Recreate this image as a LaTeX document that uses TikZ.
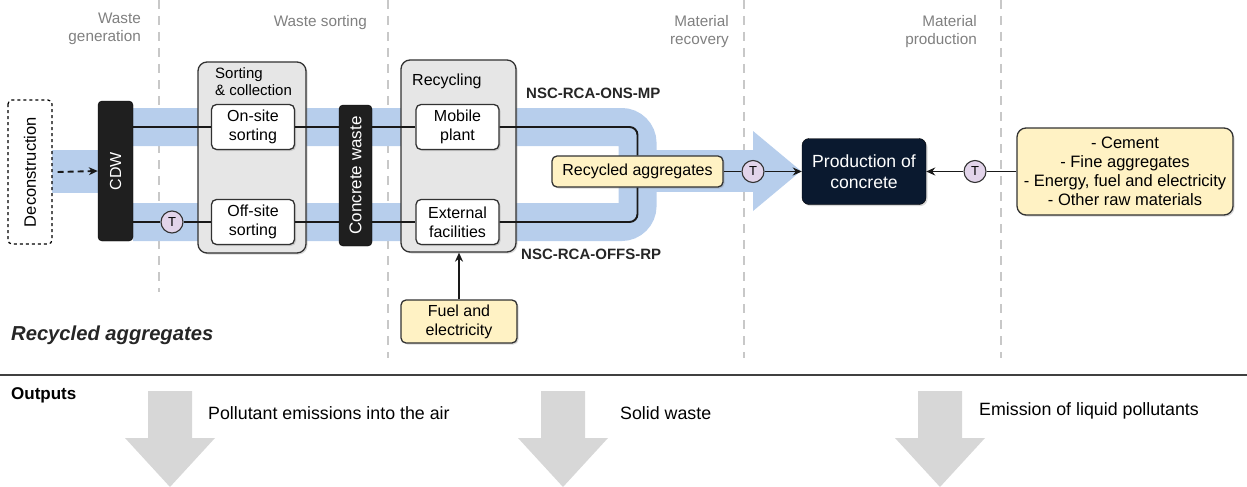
\documentclass[tikz,border=0pt]{standalone}
\usepackage{fontspec}
\setmainfont{Liberation Sans}
\usetikzlibrary{arrows.meta,shadows,backgrounds}

\definecolor{bandblue}{RGB}{183,206,236}
\definecolor{boxgray}{RGB}{230,230,230}
\definecolor{edge}{RGB}{50,50,50}
\definecolor{cream}{RGB}{255,242,196}
\definecolor{tfill}{RGB}{226,212,234}
\definecolor{navy}{RGB}{10,25,47}
\definecolor{phase}{RGB}{128,128,128}
\definecolor{divider}{RGB}{200,200,200}
\definecolor{outarrow}{RGB}{215,215,215}
\definecolor{rule}{RGB}{64,64,64}

\tikzset{
  shade/.style={drop shadow={shadow xshift=1.5pt,shadow yshift=-1.5pt,opacity=0.3}},
  group/.style={draw=edge, line width=1.3pt, fill=boxgray, rounded corners=9pt, inner sep=0pt, shade},
  inner/.style={draw=edge, line width=1.3pt, fill=white, rounded corners=5pt, align=center,
    inner sep=0pt, font=\fontsize{16}{19}\selectfont, shade},
  blackbar/.style={draw=black, fill=black!88, rounded corners=4pt, rotate=90, text=white,
    inner sep=0pt},
  input/.style={draw=edge, line width=1.3pt, fill=cream, rounded corners=5pt, align=center,
    inner sep=0pt, font=\fontsize{16}{19}\selectfont, shade},
  tnode/.style={circle, draw=edge, line width=1.1pt, fill=tfill, minimum size=22pt,
    inner sep=0pt, font=\fontsize{13}{13}\selectfont},
  link/.style={line width=1.9pt, draw=black!90},
  arr/.style={link, -{Stealth[length=9pt,width=8pt]}},
  phaselabel/.style={text=phase, font=\fontsize{15.3}{18}\selectfont, align=right,
    anchor=north east, inner sep=0pt},
  divline/.style={draw=divider, line width=1.5pt, dash pattern=on 9pt off 7pt},
  flowband/.style={draw=bandblue, line width=38pt},
  outtext/.style={anchor=west, font=\fontsize{17.8}{21}\selectfont},
  outarrowshape/.style={fill=outarrow, draw=none},
}

\begin{document}
\begin{tikzpicture}[x=1pt, y=-1pt]
\useasboundingbox (0,0) rectangle (1247,487);

% phase dividers
\draw[divline] (159,0) -- (159,292);
\draw[divline] (388,0) -- (388,358);
\draw[divline] (744,0) -- (744,358);
\draw[divline] (1001,0) -- (1001,358);

% phase labels
\node[phaselabel] (phgen) at (141,13) {Waste\\generation};
\node[phaselabel] (phsort) at (367,15) {Waste sorting};
\node[phaselabel] (phrec) at (729,15) {Material\\recovery};
\node[phaselabel] (phprod) at (977,15) {Material\\production};

% material flow bands
\fill[bandblue] (52,150) rectangle (100,193);
\draw[flowband, rounded corners=16pt] (133,127) -- (637.5,127) -- (637.5,222) -- (133,222);
\fill[bandblue] (637.5,150) rectangle (753,192);
\fill[bandblue] (753,131) -- (801,171) -- (753,211) -- cycle;

% process nodes
\node[draw=black, line width=1.2pt, dashed, rounded corners=4pt, rotate=90, fill=white,
  minimum width=144pt, minimum height=44pt, inner sep=0pt,
  font=\fontsize{16.5}{19}\selectfont] (dec) at (30,172) {Deconstruction};
\node[blackbar, minimum width=140pt, minimum height=35pt,
  font=\fontsize{16}{19}\selectfont] (cdw) at (115.5,171) {CDW};

\node[group, minimum width=108pt, minimum height=191pt] (sort) at (252,157.5) {};
\node[anchor=north west, align=left, inner sep=0pt, font=\fontsize{15}{17}\selectfont]
  (sorttitle) at (215,67) {Sorting\\\& collection};
\node[inner, minimum width=83pt, minimum height=45pt] (on) at (253,127) {On-site\\sorting};
\node[inner, minimum width=83pt, minimum height=45pt] (off) at (253,222) {Off-site\\sorting};
\node[tnode] (t1) at (172,222) {T};

\node[blackbar, minimum width=141pt, minimum height=33pt,
  font=\fontsize{17}{20}\selectfont] (cw) at (355.5,175.5) {Concrete waste};

\node[group, minimum width=115pt, minimum height=192pt] (rec) at (458.5,156) {};
\node[anchor=north west, inner sep=0pt, font=\fontsize{16}{19}\selectfont]
  (rectitle) at (412,74) {Recycling};
\node[inner, minimum width=83pt, minimum height=45pt] (mob) at (457.5,127) {Mobile\\plant};
\node[inner, minimum width=83pt, minimum height=45pt] (ext) at (457.5,222) {External\\facilities};
\node[input, minimum width=116pt, minimum height=43pt] (fuel) at (459,321.5) {Fuel and\\electricity};

\node[input, minimum width=171pt, minimum height=31pt] (ra) at (637.5,171.5) {Recycled aggregates};
\node[tnode] (t2) at (753,171.5) {T};
\node[draw=black, fill=navy, rounded corners=7pt, text=white, align=center, inner sep=0pt,
  minimum width=124pt, minimum height=66pt, font=\fontsize{17.6}{21}\selectfont, shade]
  (prod) at (864,171.5) {Production of\\concrete};
\node[tnode] (t3) at (975,171.5) {T};
\node[input, minimum width=216pt, minimum height=87pt, rounded corners=9pt,
  font=\fontsize{16.5}{19}\selectfont] (raw) at (1125,171.5)
  {- Cement\\- Fine aggregates\\- Energy, fuel and electricity\\- Other raw materials};

% route labels
\node[anchor=west, inner sep=0pt, font=\bfseries\fontsize{15}{18}\selectfont, text=black!85]
  (onsroute) at (526,93) {NSC-RCA-ONS-MP};
\node[anchor=west, inner sep=0pt, font=\bfseries\fontsize{15}{18}\selectfont, text=black!85]
  (offsroute) at (521,254) {NSC-RCA-OFFS-RP};

% connectors
\draw[arr, dash pattern=on 6pt off 4pt] ([xshift=5pt]dec.south) -- (cdw.north);
\draw[link] (cdw.south |- on.west) -- (on.west);
\draw[link] (on.east) -- (cw.north |- on.east);
\draw[link] (cw.south |- mob.west) -- (mob.west);
\draw[link, rounded corners=8pt] (mob.east) -| (ra.north);
\draw[link] (cdw.south |- t1.west) -- (t1.west);
\draw[link] (t1.east) -- (off.west);
\draw[link] (off.east) -- (cw.north |- off.east);
\draw[link] (cw.south |- ext.west) -- (ext.west);
\draw[link, rounded corners=8pt] (ext.east) -| (ra.south);
\draw[link] (ra.east) -- (t2.west);
\draw[arr] (t2.east) -- (prod.west);
\draw[link] (raw.west) -- (t3.east);
\draw[arr] (t3.west) -- (prod.east);
\draw[arr] (fuel.north) -- (fuel.north |- rec.south);

% life-cycle title and outputs
\node[anchor=west, inner sep=0pt, font=\bfseries\itshape\fontsize{20.2}{24}\selectfont, text=black!85]
  (title) at (11,335) {Recycled aggregates};
\draw[draw=rule, line width=2.5pt] (0,375) -- (1247,375);
\node[anchor=west, inner sep=0pt, font=\bfseries\fontsize{17}{20}\selectfont] (outputs) at (11,395) {Outputs};

\fill[outarrowshape] (148,391) -- (192,391) -- (192,438) -- (215,438) -- (170,487) -- (125,438) -- (148,438) -- cycle;
\fill[outarrowshape] (541,391) -- (585,391) -- (585,438) -- (608,438) -- (563,487) -- (518,438) -- (541,438) -- cycle;
\fill[outarrowshape] (918,391) -- (962,391) -- (962,438) -- (985,438) -- (940,487) -- (895,438) -- (918,438) -- cycle;

\node[outtext, inner sep=0pt] (air) at (208,413) {Pollutant emissions into the air};
\node[outtext, inner sep=0pt] (solid) at (620,413) {Solid waste};
\node[outtext, inner sep=0pt] (liquid) at (979,411) {Emission of liquid pollutants};
\end{tikzpicture}
\end{document}
